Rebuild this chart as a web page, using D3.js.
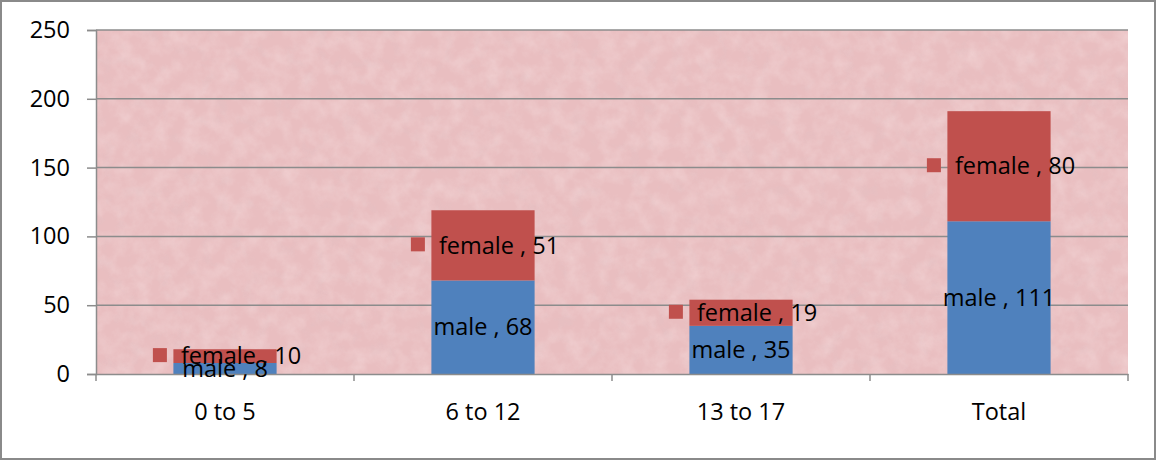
<!DOCTYPE html>
<html>
<head>
<meta charset="utf-8">
<script src="https://cdn.jsdelivr.net/npm/d3@7"></script>
<style>
  html, body { margin: 0; padding: 0; background: #fff; }
  svg { display: block; font-family: "Open Sans", "Noto Sans", sans-serif; }
</style>
</head>
<body>
<svg id="chart" width="1157" height="461"></svg>
<script>
// Age groups and head counts by sex
const categories = ["0 to 5", "6 to 12", "13 to 17", "Total"];
const male = [8, 68, 35, 111];
const female = [10, 51, 19, 80];
const seriesNames = ["male", "female"];
const yTicks = [0, 50, 100, 150, 200, 250];

const W = 1157, H = 461;
const plot = { left: 96, right: 1128, top: 30, bottom: 374 };
const colors = { male: "#4F81BD", female: "#C0504D" };
const fontSize = 23.5;

const svg = d3.select("#chart");
const defs = svg.append("defs");

// Light speckle for the paper-like plot background
const tex = defs.append("filter").attr("id", "paper")
  .attr("x", 0).attr("y", 0).attr("width", "100%").attr("height", "100%");
tex.append("feTurbulence").attr("type", "fractalNoise")
  .attr("baseFrequency", 0.06).attr("numOctaves", 4).attr("seed", 7).attr("result", "n");
tex.append("feColorMatrix").attr("in", "n").attr("type", "matrix")
  .attr("values", "0 0 0 0 1  0 0 0 0 0.9  0 0 0 0 0.9  1.4 0 0 0 -0.5")
  .attr("result", "a");
tex.append("feComposite").attr("in", "a").attr("in2", "SourceGraphic").attr("operator", "in");

// Darker mottling
const tex2 = defs.append("filter").attr("id", "mottle")
  .attr("x", 0).attr("y", 0).attr("width", "100%").attr("height", "100%");
tex2.append("feTurbulence").attr("type", "fractalNoise")
  .attr("baseFrequency", 0.07).attr("numOctaves", 4).attr("seed", 3).attr("result", "n");
tex2.append("feColorMatrix").attr("in", "n").attr("type", "matrix")
  .attr("values", "0 0 0 0 0.72  0 0 0 0 0.56  0 0 0 0 0.58  -1.8 0 0 0 0.85")
  .attr("result", "a");
tex2.append("feComposite").attr("in", "a").attr("in2", "SourceGraphic").attr("operator", "in");

// Outer chart frame
svg.append("rect")
  .attr("x", 1).attr("y", 1).attr("width", W - 3).attr("height", H - 3)
  .attr("fill", "#fff").attr("stroke", "#8a8a8a").attr("stroke-width", 2);

const x = d3.scaleBand().domain(categories)
  .range([plot.left, plot.right]).paddingInner(0.6).paddingOuter(0.3);
const y = d3.scaleLinear().domain([0, 250]).range([plot.bottom, plot.top]);

// Plot area background
const pw = plot.right - plot.left, ph = plot.bottom - plot.top;
svg.append("rect")
  .attr("x", plot.left).attr("y", plot.top).attr("width", pw).attr("height", ph)
  .attr("fill", "#E9BEC0");
svg.append("rect")
  .attr("x", plot.left).attr("y", plot.top).attr("width", pw).attr("height", ph)
  .attr("fill", "#E9BEC0").attr("filter", "url(#paper)").attr("opacity", 0.35);
svg.append("rect")
  .attr("x", plot.left).attr("y", plot.top).attr("width", pw).attr("height", ph)
  .attr("fill", "#E9BEC0").attr("filter", "url(#mottle)").attr("opacity", 0.3);

// Horizontal gridlines
svg.append("g").selectAll("line")
  .data(yTicks.filter(d => d > 0))
  .join("line")
  .attr("x1", plot.left).attr("x2", plot.right)
  .attr("y1", d => y(d)).attr("y2", d => y(d))
  .attr("stroke", "#8c8c8c").attr("stroke-width", 1.5);

// Stacked bars
const rows = categories.map((c, i) => ({ cat: c, male: male[i], female: female[i] }));
const stack = d3.stack().keys(seriesNames)(rows);

const bw = x.bandwidth();
stack.forEach(layer => {
  svg.append("g").selectAll("rect")
    .data(layer)
    .join("rect")
    .attr("x", d => x(d.data.cat))
    .attr("width", bw)
    .attr("y", d => y(d[1]))
    .attr("height", d => y(d[0]) - y(d[1]))
    .attr("fill", colors[layer.key]);
});

// Axes
const yAxis = d3.axisLeft(y).tickValues(yTicks).tickSize(9).tickPadding(17);
const gy = svg.append("g").attr("transform", `translate(${plot.left},0)`).call(yAxis);
gy.select(".domain").attr("stroke", "#8c8c8c").attr("stroke-width", 1.5);
gy.selectAll(".tick line").attr("stroke", "#8c8c8c").attr("stroke-width", 1.5);
gy.selectAll(".tick text").attr("font-size", fontSize).attr("fill", "#000")
  .attr("font-family", "Open Sans, sans-serif");

const xAxis = d3.axisBottom(x).tickSize(0).tickPadding(29);
const gx = svg.append("g").attr("transform", `translate(0,${plot.bottom})`).call(xAxis);
gx.select(".domain").attr("stroke", "#8c8c8c").attr("stroke-width", 1.5);
gx.selectAll(".tick text").attr("font-size", fontSize).attr("fill", "#000")
  .attr("font-family", "Open Sans, sans-serif");
// category boundary tick marks
const step = x.step();
const bounds = d3.range(categories.length + 1).map(i => plot.left + i * step);
gx.append("g").selectAll("line").data(bounds).join("line")
  .attr("x1", d => d).attr("x2", d => d).attr("y1", 0).attr("y2", 7)
  .attr("stroke", "#8c8c8c").attr("stroke-width", 1.5);

// Data labels: female labels carry a legend key, male labels are centred
const labels = svg.append("g").attr("font-size", fontSize).attr("fill", "#000");
stack.forEach(layer => {
  layer.forEach(d => {
    const cx = x(d.data.cat) + bw / 2;
    const cy = y((d[0] + d[1]) / 2);
    const val = d.data[layer.key];
    if (layer.key === "female") {
      const g = labels.append("g");
      const t = g.append("text")
        .attr("y", cy).attr("dy", "0.35em")
        .text(`${layer.key} , ${val}`);
      const tw = t.node().getComputedTextLength();
      const key = 14, gap = 14;
      const total = key + gap + tw;
      const x0 = cx - total / 2 + 2;
      g.insert("rect", "text")
        .attr("x", x0).attr("y", cy - key / 2 - 1)
        .attr("width", key).attr("height", key)
        .attr("fill", colors.female);
      t.attr("x", x0 + key + gap);
    } else {
      labels.append("text")
        .attr("x", cx).attr("y", cy).attr("dy", "0.35em")
        .attr("text-anchor", "middle")
        .text(`${layer.key} , ${val}`);
    }
  });
});
</script>
</body>
</html>
